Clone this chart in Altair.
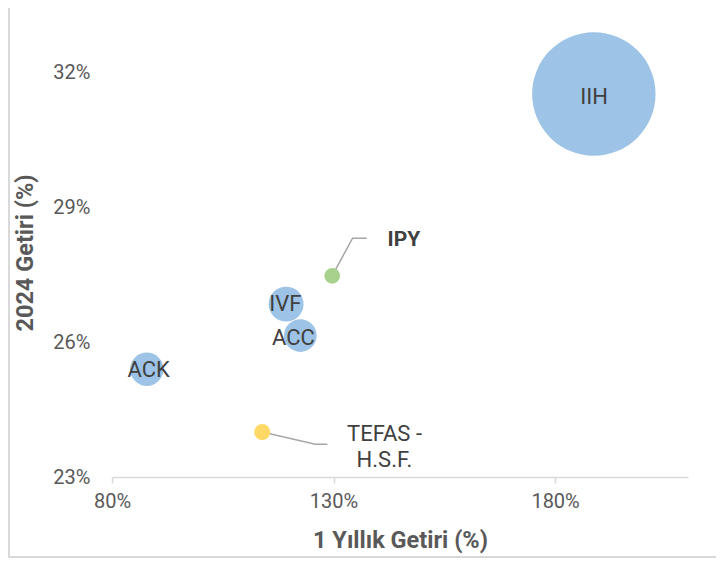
import altair as alt
import pandas as pd

FONT = "Roboto"

# Data
funds = ["IIH", "IVF", "ACC", "ACK", "IPY", "TEFAS - H.S.F."]
one_year = [188.75, 119.3, 122.5, 87.85, 129.7, 113.9]      # 1 Yıllık Getiri (%)
ytd_2024 = [31.53, 26.85, 26.15, 25.40, 27.48, 24.00]        # 2024 Getiri (%)
bubble = [100, 8.0, 7.0, 7.3, 1.6, 1.7]                        # bubble size
colors = ["#9dc3e6", "#9dc3e6", "#9dc3e6", "#9dc3e6", "#a9d18e", "#ffd966"]

# label anchor positions (data units)
lab_funds = ["IIH", "IVF", "ACC", "ACK"]
lab_x = [188.8, 119.1, 120.95, 88.26]
lab_y = [31.46, 26.85, 26.09, 25.38]

ipy_label_x = [142.2]
ipy_label_y = [28.28]
tefas_label_x = [141.5]
tefas_label_y = [23.96]

# leader lines
lead_fund = ["IPY", "IPY", "IPY", "TEFAS", "TEFAS", "TEFAS"]
lead_order = [0, 1, 2, 0, 1, 2]
lead_x = [129.7, 134.3, 137.5, 113.9, 125.9, 128.6]
lead_y = [27.48, 28.32, 28.32, 24.0, 23.73, 23.73]

x_ticks = [80, 130, 180]
y_ticks = [23, 26, 29, 32]

df = pd.DataFrame({"fund": funds, "x": one_year, "y": ytd_2024,
                   "size": bubble, "color": colors})
df_lab = pd.DataFrame({"fund": lab_funds, "x": lab_x, "y": lab_y})
df_ipy = pd.DataFrame({"fund": ["IPY"], "x": ipy_label_x, "y": ipy_label_y})
df_tef = pd.DataFrame({"fund": ["TEFAS -\nH.S.F."], "x": tefas_label_x, "y": tefas_label_y})
df_lead = pd.DataFrame({"fund": lead_fund, "o": lead_order, "x": lead_x, "y": lead_y})

xs = alt.Scale(domain=[80, 210], nice=False, zero=False)
ys = alt.Scale(domain=[23, 33], nice=False, zero=False)

X = alt.X("x:Q", scale=xs, title="1 Yıllık Getiri (%)",
          axis=alt.Axis(values=x_ticks, labelExpr="datum.value + '%'", grid=False,
                        labelFlush=False, labelOverlap=False,
                        domainColor="#d9d9d9", domainWidth=1.5, tickColor="#d9d9d9",
                        tickWidth=1.5, tickSize=6, labelPadding=8, titlePadding=17))
Y = alt.Y("y:Q", scale=ys, title="2024 Getiri (%)",
          axis=alt.Axis(values=y_ticks, labelExpr="datum.value + '%'", grid=False,
                        labelFlush=False, labelOverlap=False,
                        domain=False, ticks=False, labelPadding=22, titlePadding=15))

blank = pd.DataFrame({"a": [0]})
border_left = alt.Chart(blank).mark_rule(color="#d9d9d9", strokeWidth=2).encode(
    x=alt.value(-103), y=alt.value(-20), y2=alt.value(530))
border_bottom = alt.Chart(blank).mark_rule(color="#d9d9d9", strokeWidth=2).encode(
    x=alt.value(-104), x2=alt.value(604), y=alt.value(529))

leads = alt.Chart(df_lead).mark_line(color="#a6a6a6", strokeWidth=1.5).encode(
    x=X, y=Y, detail="fund:N", order="o:Q")

bubbles = alt.Chart(df).mark_circle(opacity=1).encode(
    x=X, y=Y,
    size=alt.Size("size:Q", scale=alt.Scale(domain=[0, 100], range=[0, 15228]), legend=None),
    color=alt.Color("color:N", scale=None))

labels = alt.Chart(df_lab).mark_text(font=FONT, fontSize=22, color="#404040",
                                     align="center", baseline="middle").encode(
    x=X, y=Y, text="fund:N")

ipy = alt.Chart(df_ipy).mark_text(font=FONT, fontSize=21, fontWeight="bold", color="#404040",
                                  align="left", baseline="middle").encode(
    x=X, y=Y, text="fund:N")

tef = alt.Chart(df_tef).mark_text(font=FONT, fontSize=22, color="#404040", align="center",
                                  baseline="middle", lineBreak="\n", lineHeight=26).encode(
    x=X, y=Y, text="fund:N")

chart = alt.layer(border_left, border_bottom, leads, bubbles, labels, ipy, tef).properties(
    width=576, height=449,
    autosize=alt.AutoSizeParams(type="none"),
    padding={"left": 104, "top": 20, "right": 28, "bottom": 82},
).configure_view(stroke=None).configure_axis(
    labelFont=FONT, titleFont=FONT, labelColor="#595959", titleColor="#595959",
    labelFontSize=20, titleFontSize=23.5, titleFontWeight="bold"
)

chart.save("out.html", embed_options={"renderer": "svg", "actions": False})
